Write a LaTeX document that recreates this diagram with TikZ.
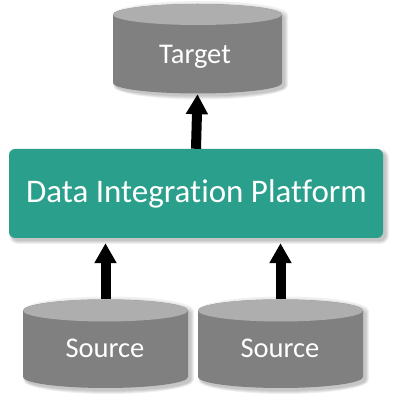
\documentclass[tikz,border=0pt]{standalone}
\usepackage{fontspec}
\setmainfont{Carlito}[Ligatures=NoCommon]
\usetikzlibrary{arrows.meta}
\definecolor{dbbody}{HTML}{808080}
\definecolor{dbtop}{HTML}{AEAEAE}
\definecolor{platteal}{HTML}{2A9F8B}
\newcommand\drawdb[5]{% cx rx ty by ry
  \foreach \dd in {0,1,2,3}{
    \fill[black,opacity=0.06] ({#1+3-#2-\dd},{#3-3+\dd}) -- ({#1+3-#2-\dd},{#4-3})
      arc[start angle=180,end angle=360,x radius={#2+\dd},y radius={#5+\dd}]
      -- ({#1+3+#2+\dd},{#3-3+\dd})
      arc[start angle=0,end angle=180,x radius={#2+\dd},y radius={#5+\dd}] -- cycle;
  }
  \fill[dbbody] ({#1-#2},#3) -- ({#1-#2},#4)
    arc[start angle=180,end angle=360,x radius=#2,y radius=#5]
    -- ({#1+#2},#3)
    arc[start angle=0,end angle=180,x radius=#2,y radius=#5] -- cycle;
  \fill[dbtop] (#1,#3) ellipse[x radius=#2,y radius=#5];
}
\tikzset{
  flow/.style={line width=10pt,-{Triangle[width=21pt,length=20pt]}},
  dbbox/.style={inner sep=0pt,minimum width=165pt,minimum height=88pt},
  dblabel/.style={text=white,font=\fontsize{28.5}{31}\selectfont,anchor=base,inner sep=0pt},
  platlabel/.style={text=white,font=\fontsize{33}{36}\selectfont,anchor=base,inner sep=0pt}
}
\begin{document}
\begin{tikzpicture}[x=1pt,y=1pt]
\useasboundingbox (0,0) rectangle (402,402);
\fill[white] (0,0) rectangle (402,402);
% platform shadow
\foreach \dd in {0,1,2,3}{
  \fill[black,opacity=0.06,rounded corners={6pt+\dd pt}] ({12-\dd},{161-\dd}) rectangle ({386+\dd},{250+\dd});
}
\node[fill=platteal,rounded corners=6pt,minimum width=374pt,minimum height=89pt,inner sep=0pt] (platform) at (196,208.5) {};
\node[platlabel] (platformlabel) at (196.5,199.3) {Data Integration Platform};
% target
\drawdb{197.5}{84.5}{387.5}{319}{10.5}
\node[dbbox,minimum width=169pt,minimum height=90pt] (target) at (197.5,353) {};
\node[dblabel] (targetlabel) at (195,338.7) {Target};
% sources
\drawdb{105.5}{82.5}{91.5}{25}{11}
\drawdb{280.5}{82.5}{91.5}{25}{11}
\node[dbbox] (src1) at (105.5,59) {};
\node[dbbox] (src2) at (280.5,59) {};
\node[dblabel] (src1label) at (105,44) {Source};
\node[dblabel] (src2label) at (280,44) {Source};
% arrows
\draw[flow] (platform.north) -- (target.south);
\draw[flow,shorten >=5pt] (src1.north) -- (src1.north |- platform.south);
\draw[flow,shorten >=5pt] (src2.north) -- (src2.north |- platform.south);
\end{tikzpicture}
\end{document}
